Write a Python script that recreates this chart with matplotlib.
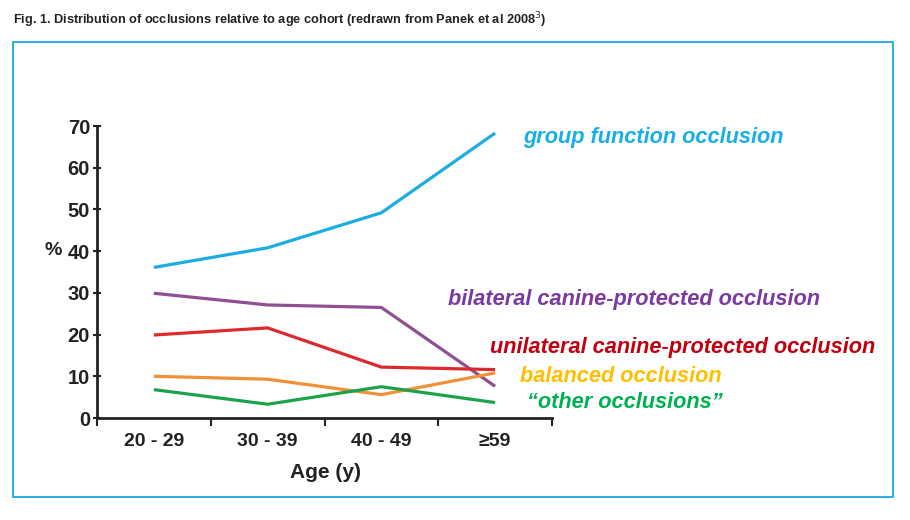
import matplotlib
matplotlib.use("Agg")
import matplotlib.pyplot as plt
from matplotlib.patches import Rectangle
from matplotlib import font_manager

categories = ["20 - 29", "30 - 39", "40 - 49", "≥59"]
group_function = [36.1, 40.8, 49.2, 68.3]
bilateral = [29.9, 27.1, 26.5, 7.6]
unilateral = [19.9, 21.6, 12.2, 11.6]
balanced = [10.0, 9.3, 5.6, 10.8]
other = [6.8, 3.3, 7.5, 3.7]
y_ticks = [0, 10, 20, 30, 40, 50, 60, 70]

names = [f.name for f in font_manager.fontManager.ttflist]
narrow = "Liberation Sans Narrow" if "Liberation Sans Narrow" in names else "Liberation Sans"

fig = plt.figure(figsize=(9.1, 5.2), dpi=100)
ax = fig.add_axes([97/910, 102/520, 455/910, 292/520])

x = list(range(len(categories)))
series = [
    (group_function, "#1badE2", "group function occlusion", "#19aee6", (523, 138)),
    (bilateral, "#8e4f93", "bilateral canine-protected occlusion", "#7a3aa0", (448, 300)),
    (unilateral, "#db2a2e", "unilateral canine-protected occlusion", "#c00010", (490, 347)),
    (balanced, "#f09138", "balanced occlusion", "#ffbf00", (520, 376)),
    (other, "#1da24c", "“other occlusions”", "#00b050", (527, 403)),
]
for vals, lc, label, tc, (px, py) in series:
    ax.plot(x, vals, color=lc, lw=2.3, solid_capstyle="butt")
    fig.text(px/910, 1 - py/520, label, color=tc, fontsize=15.7, fontweight="bold",
             fontstyle="italic", family="Liberation Sans", va="center", ha="left")

ax.set_xlim(-0.5, 3.5)
ax.set_ylim(0, 70)
ax.set_yticks(y_ticks)
ax.set_xticks([-0.5, 0.5, 1.5, 2.5, 3.5])
ax.set_xticklabels([])
ax.set_xticks(x, minor=True)
ax.set_xticklabels(categories, minor=True, fontsize=14, fontweight="bold", family=narrow, color="#222222")
ax.tick_params(axis="x", which="minor", length=0, pad=11)
ax.tick_params(axis="x", which="major", direction="out", length=6, width=1.5, color="#222222")
ax.tick_params(axis="y", direction="inout", length=6, width=1.5, color="#222222", pad=2)
for t in ax.get_yticklabels():
    t.set_fontsize(14.5); t.set_fontweight("bold"); t.set_family(narrow); t.set_color("#222222")
for s in ["top", "right"]:
    ax.spines[s].set_visible(False)
for s in ["left", "bottom"]:
    ax.spines[s].set_linewidth(2)
    ax.spines[s].set_color("#222222")

fig.text(325/910, 1 - 473/520, "Age (y)", fontsize=15, fontweight="bold", family=narrow,
         color="#222222", ha="center", va="center")
fig.text(53/910, 1 - 250/520, "%", fontsize=14, fontweight="bold", family=narrow,
         color="#222222", ha="center", va="center")

fig.text(13/910, 1 - 20/520, "Fig. 1. Distribution of occlusions relative to age cohort (redrawn from Panek et al 2008$^{3}$)",
         fontsize=9.2, fontweight="bold", family=narrow, color="#222222", ha="left", va="center")

fig.patches.append(Rectangle((13/910, 1 - 497/520), (893-13)/910, (497-42)/520,
                             transform=fig.transFigure, fill=False, edgecolor="#1aa9e0", lw=1.3))

fig.savefig("out.png", dpi=100)
